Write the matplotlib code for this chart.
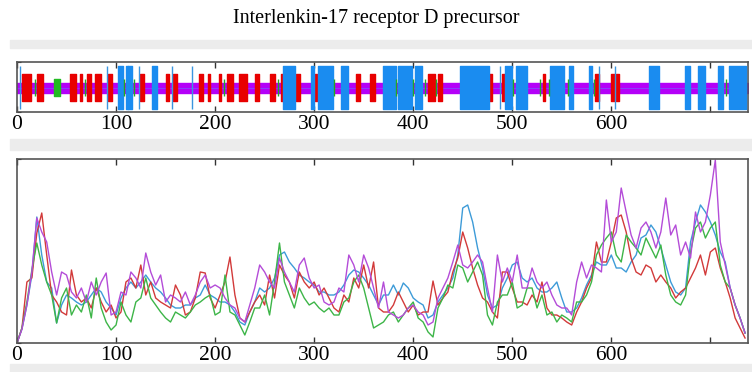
import matplotlib
matplotlib.use("Agg")
import matplotlib.pyplot as plt
from matplotlib.patches import Rectangle

plt.rcParams["font.family"] = ["Liberation Serif", "DejaVu Serif"]

title = "Interlenkin-17 receptor D precursor"
seq_len = 738

# domain map (residue start, residue end)
red_blocks = [(5, 14), (20, 26.5), (53.5, 59.6), (64, 66), (71, 75), (79, 84.5), (92, 96),
              (124, 128), (150, 153.5), (157, 162), (184, 188), (193, 195), (204, 206),
              (212, 218), (224.6, 232), (240, 244), (255, 260), (267, 268.5), (281.5, 286),
              (301, 303), (342, 346.5), (356.5, 361), (415, 422), (425, 429), (477, 480),
              (489.6, 493), (530.6, 533), (584, 588), (600, 604), (605, 608)]
blue_blocks = [(102, 107), (110, 112), (112.5, 116), (136, 141.7), (269, 281), (296.7, 300),
               (304, 319.5), (327, 334), (369, 383), (384.5, 398.7), (402, 409), (447, 477),
               (493, 500), (504, 515), (538, 552), (557, 561), (577, 580.5), (638, 648),
               (674, 679), (687.5, 695), (708, 713), (718.5, 736)]
green_blocks = [(37, 43)]
blue_marks = [3, 90.6, 123, 156, 177, 488, 588, 604]
green_marks = [18, 68.7, 108, 118, 209, 263, 320, 383, 400, 412, 423, 500.7, 527.6,
               536.7, 556, 583, 716]

# profile curves, one value every 5 residues
residue = list(range(0, 740, 5))
red = [0, 15, 61, 65, 110, 130, 88, 48, 41, 31,
       28, 73, 48, 41, 45, 35, 55, 41, 31, 38,
       25, 31, 61, 65, 55, 78, 48, 61, 45, 41,
       38, 35, 58, 48, 28, 31, 45, 71, 70, 45,
       35, 48, 61, 86, 48, 25, 21, 31, 41, 48,
       38, 68, 45, 78, 68, 61, 45, 71, 61, 55,
       61, 48, 55, 45, 35, 31, 48, 41, 65, 55,
       78, 55, 81, 35, 31, 31, 38, 51, 41, 31,
       38, 28, 31, 31, 62, 38, 45, 51, 71, 85,
       111, 95, 75, 58, 45, 41, 31, 25, 71, 71,
       55, 41, 41, 38, 48, 41, 61, 35, 28, 28,
       25, 21, 18, 31, 41, 55, 65, 101, 81, 81,
       101, 125, 128, 111, 85, 71, 68, 78, 75, 61,
       68, 61, 55, 45, 51, 55, 65, 75, 88, 68,
       91, 95, 75, 61, 45, 25, 15, 5]
blue = [0, 14, 38, 68, 126, 88, 61, 55, 20, 38,
        48, 45, 41, 38, 41, 48, 55, 51, 41, 35,
        28, 45, 55, 61, 55, 61, 68, 61, 55, 51,
        45, 38, 35, 35, 38, 38, 45, 48, 58, 48,
        45, 41, 41, 38, 31, 21, 18, 31, 41, 55,
        51, 55, 65, 88, 91, 81, 75, 68, 65, 61,
        58, 51, 51, 48, 48, 51, 58, 68, 73, 71,
        65, 58, 48, 38, 48, 48, 58, 48, 60, 55,
        45, 41, 38, 25, 28, 41, 48, 55, 65, 88,
        135, 138, 121, 95, 75, 48, 35, 38, 55, 65,
        78, 81, 65, 61, 65, 55, 51, 51, 55, 61,
        45, 31, 31, 35, 45, 58, 68, 81, 78, 78,
        88, 75, 75, 71, 81, 88, 105, 108, 118, 111,
        95, 78, 61, 51, 48, 55, 101, 121, 138, 131,
        121, 108, 91, 81, 55, 38, 25, 10]
green = [0, 15, 41, 73, 100, 78, 61, 48, 20, 45,
         55, 28, 38, 31, 48, 25, 65, 35, 21, 13,
         18, 41, 28, 21, 41, 45, 65, 45, 38, 31,
         25, 21, 31, 28, 25, 31, 38, 41, 45, 48,
         28, 31, 68, 31, 28, 18, 8, 21, 35, 35,
         48, 28, 61, 100, 61, 48, 35, 55, 45, 38,
         41, 35, 31, 35, 28, 28, 41, 45, 61, 68,
         55, 35, 15, 18, 21, 28, 31, 21, 28, 35,
         41, 25, 21, 11, 6, 35, 45, 58, 55, 78,
         75, 61, 71, 81, 68, 28, 18, 41, 48, 48,
         61, 35, 38, 55, 55, 35, 48, 28, 31, 21,
         28, 25, 21, 41, 41, 48, 61, 88, 98, 105,
         111, 88, 81, 108, 101, 95, 88, 105, 95, 85,
         98, 68, 48, 41, 38, 48, 91, 115, 121, 105,
         115, 121, 78, 61, 55, 38, 25, 10]
purple = [0, 14, 38, 71, 125, 111, 101, 71, 48, 71,
          68, 51, 45, 55, 41, 61, 48, 61, 70, 28,
          31, 51, 48, 71, 65, 55, 90, 71, 58, 68,
          41, 48, 45, 41, 51, 38, 48, 61, 68, 55,
          58, 55, 45, 38, 35, 25, 21, 38, 55, 78,
          71, 61, 55, 85, 71, 61, 51, 78, 85, 65,
          55, 58, 41, 38, 41, 55, 51, 88, 78, 61,
          88, 75, 55, 35, 61, 31, 28, 25, 28, 35,
          38, 31, 28, 18, 21, 45, 55, 65, 81, 98,
          78, 75, 81, 88, 81, 55, 31, 88, 61, 75,
          61, 88, 55, 55, 75, 61, 55, 61, 48, 38,
          35, 35, 28, 61, 81, 65, 78, 75, 71, 143,
          101, 111, 155, 131, 108, 95, 115, 121, 111, 95,
          111, 145, 108, 118, 88, 101, 85, 131, 111, 121,
          148, 183, 101, 78, 55, 38, 25, 10]

W, H = 752, 372
fig = plt.figure(figsize=(W / 100, H / 100), dpi=100)

# light grey separator bands
for y0, y1 in [(40, 48), (139, 150), (364, 372)]:
    fig.patches.append(Rectangle((10 / W, 1 - y1 / H), (W - 10) / W, (y1 - y0) / H,
                                 transform=fig.transFigure, color="#ececec", zorder=0))

fig.text(376 / W, 1 - 18 / H, title, ha="center", va="center", fontsize=14.5)

ticks = [0, 100, 200, 300, 400, 500, 600, 700]
labels = ["0", "100", "200", "300", "400", "500", "600", ""]


def style(ax):
    ax.set_xlim(0, seq_len)
    ax.set_xticks(ticks)
    ax.set_xticklabels(labels)
    ax.tick_params(axis="x", direction="in", top=True, length=4, width=1,
                   labelsize=15.5, pad=2, color="#333333")
    ax.tick_params(axis="y", direction="in", right=False, length=3, labelleft=False)
    for s in ax.spines.values():
        s.set_color("#555555")
        s.set_linewidth(1.2)


# top: domain map
ax1 = fig.add_axes([17 / W, 1 - 112 / H, 731 / W, 50 / H])
cy = 24.5
ax1.set_ylim(0, 50)
ax1.set_yticks([0, 50])
ax1.broken_barh([(0, seq_len)], (cy - 5, 10), color="#b400f8", zorder=1)
ax1.axhline(cy, color="#7a5aff", lw=0.5, zorder=1.5)
ax1.broken_barh([(a, b - a) for a, b in red_blocks], (cy - 13.5, 27), color="#e80000", zorder=2)
ax1.broken_barh([(a, b - a) for a, b in blue_blocks], (cy - 21.5, 43), color="#1a8cf0", zorder=3)
ax1.broken_barh([(a, b - a) for a, b in green_blocks], (cy - 8.5, 17), color="#22bb22", zorder=3)
ax1.vlines(blue_marks, cy - 21.5, cy + 21.5, color="#3a95e0", lw=1.0, zorder=3)
ax1.vlines(green_marks, cy - 8.5, cy + 8.5, color="#22aa22", lw=1.0, zorder=3)
style(ax1)

# bottom: profiles
ax2 = fig.add_axes([17 / W, 1 - 343 / H, 731 / W, 184 / H])
ax2.plot(residue, blue, color="#3d9bd8", lw=1.0)
ax2.plot(residue, red, color="#d23a3a", lw=1.0)
ax2.plot(residue, green, color="#3db548", lw=1.0)
ax2.plot(residue, purple, color="#b44cd8", lw=1.0)
ax2.set_ylim(0, 184)
ax2.set_yticks([0, 184])
style(ax2)

fig.savefig("out.png", dpi=100)
